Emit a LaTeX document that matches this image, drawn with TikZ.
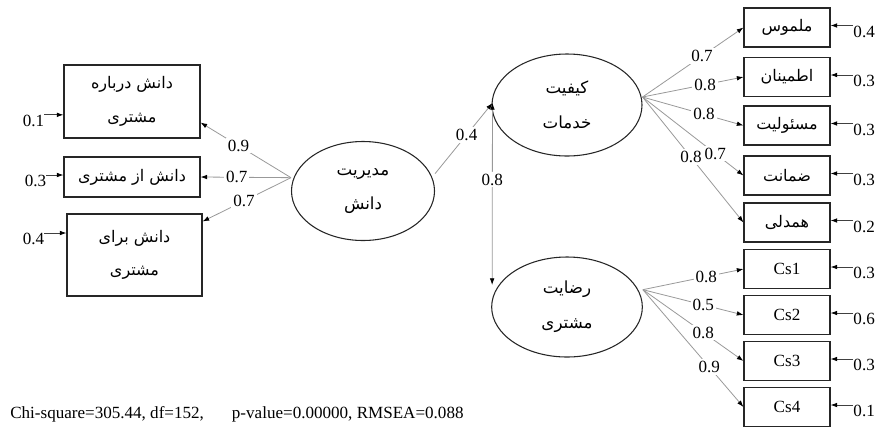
\documentclass[tikz,border=0pt]{standalone}
\usepackage{fontspec}
\setmainfont{Liberation Serif}
\newfontfamily\fa[Script=Arabic]{DejaVu Sans}
\TeXXeTstate=1
\usetikzlibrary{shapes.geometric,arrows.meta,calc}
\begin{document}
\begin{tikzpicture}[x=0.75pt,y=-0.75pt,
  tip/.style={-{Latex[length=5pt,width=3.5pt,color=black]}},
  dtip/.style={{Latex[length=5pt,width=3.5pt,color=black]}-{Latex[length=5pt,width=3.5pt,color=black]}},
  obsbox/.style={draw=black!85,line width=0.8pt,rectangle,inner sep=0pt,font=\fa\fontsize{12}{25}\selectfont,align=center},
  latent/.style={draw=black!85,line width=0.8pt,ellipse,inner sep=0pt,font=\fa\fontsize{12.5}{26}\selectfont,align=center},
  link/.style={draw=black!40,line width=0.6pt},
  coef/.style={fill=white,inner sep=1.5pt,font=\fontsize{12.8}{14}\selectfont},
  errlab/.style={inner sep=0pt,font=\fontsize{12.8}{14}\selectfont},
  errarr/.style={draw=black!75,line width=0.6pt,tip},
]
\useasboundingbox (0,0) rectangle (877,433);

% left indicator boxes
\node[obsbox,minimum width=102pt,minimum height=54.75pt] (b1) at (132,101.5) {\beginR دانش درباره\endR\\\beginR مشتری\endR};
\node[obsbox,minimum width=102pt,minimum height=30pt] (b2) at (132,177) {\beginR دانش از مشتری\endR};
\node[obsbox,minimum width=101.25pt,minimum height=61.5pt] (b3) at (134.5,255) {\beginR دانش برای\endR\\\beginR مشتری\endR};

% latent variables
\node[latent,minimum width=107.25pt,minimum height=74.25pt] (km) at (363,191) {\beginR مدیریت\endR\\\beginR دانش\endR};
\node[latent,minimum width=112.5pt,minimum height=76.5pt] (eq) at (567,105) {\beginR کیفیت\endR\\\beginR خدمات\endR};
\node[latent,minimum width=113pt,minimum height=75pt] (es) at (567,307) {\beginR رضایت\endR\\\beginR مشتری\endR};

% right indicator boxes
\tikzset{rbox/.style={obsbox,minimum width=64.5pt,minimum height=29.25pt}}
\node[rbox] (r1) at (787,27.5) {\beginR ملموس\endR};
\node[rbox] (r2) at (787,77) {\beginR اطمینان\endR};
\node[rbox] (r3) at (787,125.5) {\beginR مسئولیت\endR};
\node[rbox] (r4) at (787,175.5) {\beginR ضمانت\endR};
\node[rbox] (r5) at (787,222.5) {\beginR همدلی\endR};
\node[rbox,font=\fontsize{12.8}{14}\selectfont] (c1) at (787,269) {Cs1};
\node[rbox,font=\fontsize{12.8}{14}\selectfont] (c2) at (787,315) {Cs2};
\node[rbox,font=\fontsize{12.8}{14}\selectfont] (c3) at (787,361) {Cs3};
\node[rbox,font=\fontsize{12.8}{14}\selectfont] (c4) at (787,407) {Cs4};

% attachment points
\coordinate (kL) at ([yshift=10pt]km.west);
\coordinate (kR) at ([yshift=13pt]km.east);
\coordinate (qL) at ([xshift=0.75pt,yshift=1.5pt]eq.west);
\coordinate (qR) at ([yshift=6pt]eq.east);
\coordinate (sL) at ([xshift=0.75pt,yshift=16.5pt]es.west);
\coordinate (sR) at ([yshift=13pt]es.east);
\coordinate (b1in) at ([yshift=12pt]b1.south east);
\coordinate (b3in) at ([yshift=-6pt]b3.north east);

% structural paths
\draw[link,tip] (kL) -- node[coef,pos=.58]{0.9} (b1in);
\draw[link,tip] (kL) -- node[coef,pos=.6]{0.7} (b2.east);
\draw[link,tip] (kL) -- node[coef,pos=.53]{0.7} (b3in);
\draw[link,tip] (kR) -- node[coef,pos=.55]{0.4} (qL);
\draw[link,dtip] (qL) -- node[coef,pos=.42]{0.8} (sL);

\foreach \b/\p/\v in {r1/.59/0.7, r2/.62/0.8, r3/.61/0.8, r4/.72/0.7, r5/.48/0.8}
  \draw[link,tip] (qR) -- node[coef,pos=\p]{\v} (\b.west);
\foreach \b/\p/\v in {c1/.63/0.8, c2/.6/0.5, c3/.6/0.8, c4/.66/0.9}
  \draw[link,tip] (sR) -- node[coef,pos=\p]{\v} (\b.west);

% error terms right
\foreach \b/\v in {r1/0.4, r2/0.3, r3/0.3, r4/0.3, r5/0.2, c1/0.3, c2/0.6, c3/0.3, c4/0.1}{
  \node[errlab,anchor=north west] (e\b) at ([xshift=17pt,yshift=1.5pt]\b.east) {\v};
  \draw[errarr] (e\b.north west) -- (e\b.north west -| \b.east);
}

% error terms left
\node[errlab,anchor=north east] (el1) at ([xshift=-14.25pt,yshift=-10pt]b1.west) {0.1};
\node[errlab,anchor=north east] (el2) at ([xshift=-12.75pt,yshift=1.5pt]b2.west) {0.3};
\node[errlab,anchor=north east] (el3) at ([xshift=-16.5pt,yshift=16.5pt]b3.west) {0.4};
\draw[errarr] (el1.north east) -- (el1.north east -| b1.west);
\draw[errarr] (el2.north east) -- (el2.north east -| b2.west);
\draw[errarr] (el3.north east) -- (el3.north east -| b3.west);

% fit statistics
\node[anchor=west,inner sep=0pt,font=\fontsize{12.8}{14}\selectfont] (fit) at (10,414) {Chi-square=305.44, df=152,\hspace{21pt}p-value=0.00000, RMSEA=0.088};
\end{tikzpicture}
\end{document}
